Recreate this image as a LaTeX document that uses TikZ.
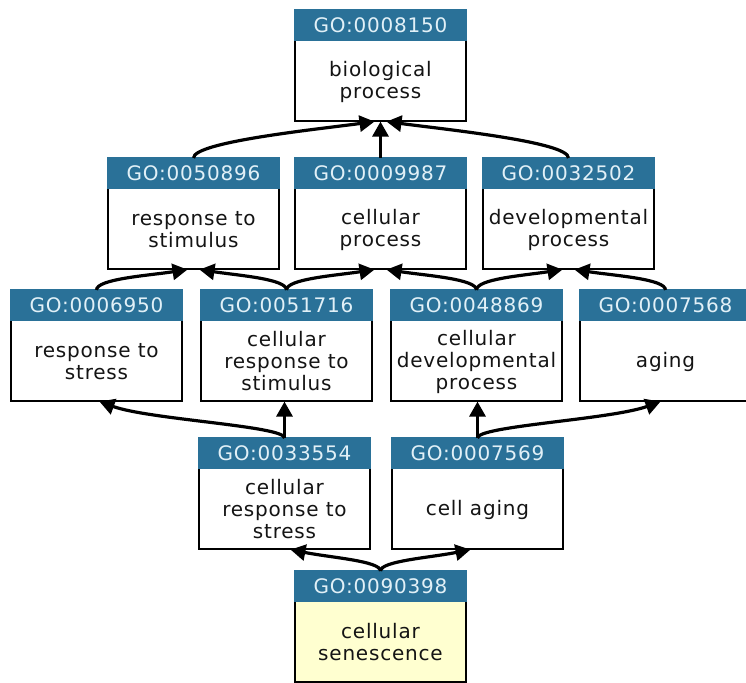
\documentclass[tikz,border=0pt]{standalone}
\usepackage{fontspec}
\newfontfamily\gofont{DejaVu Sans}[LetterSpace=4]
\usetikzlibrary{arrows.meta,calc}

\definecolor{gohead}{RGB}{42,113,152}
\definecolor{goheadtext}{RGB}{225,240,247}
\definecolor{gofocus}{RGB}{255,255,208}
\definecolor{golabel}{RGB}{20,20,20}

\tikzset{
  gobox/.style={draw=black, line width=1.6pt, minimum width=171pt,
    minimum height=110pt, inner sep=0pt, anchor=north},
  gohdr/.style={fill=gohead, minimum width=172.6pt, minimum height=31.8pt,
    inner sep=0pt, anchor=north, text=goheadtext,
    font=\gofont\fontsize{20}{22}\selectfont},
  gotxt/.style={align=center, text=golabel, inner sep=0pt,
    font=\gofont\fontsize{20}{22}\selectfont},
  isa/.style={line width=3.2pt, -{Triangle[length=15pt,width=16pt]}},
}

% one GO term: name, centre x, top y, identifier, label, fill
\newcommand\goterm[6]{%
  \node[gobox, fill=#6] (#1) at (#2,#3) {};
  \node[gohdr] (#1-id) at ([yshift=0.8pt]#1.north) {#4};
  \node[gotxt] (#1-name) at ($(#1-id.south)!0.5!(#1.south)$) {#5};
}

\begin{document}
\begin{tikzpicture}[x=1pt,y=1pt]
\useasboundingbox (0,0) rectangle (746,682);
\clip (0,0) rectangle (746,682);

% terms, row by row from the root down
\goterm{n8150}{380.5}{672}{GO:0008150}{biological\\process}{white}

\goterm{n50896}{193.5}{524}{GO:0050896}{response to\\stimulus}{white}
\goterm{n9987}{380.5}{524}{GO:0009987}{cellular\\process}{white}
\goterm{n32502}{568.5}{524}{GO:0032502}{developmental\\process}{white}

\goterm{n6950}{96.5}{392}{GO:0006950}{response to\\stress}{white}
\goterm{n51716}{286.5}{392}{GO:0051716}{cellular\\response to\\stimulus}{white}
\goterm{n48869}{476.5}{392}{GO:0048869}{cellular\\developmental\\process}{white}
\goterm{n7568}{665.5}{392}{GO:0007568}{aging}{white}

\goterm{n33554}{284.5}{244}{GO:0033554}{cellular\\response to\\stress}{white}
\goterm{n7569}{477.5}{244}{GO:0007569}{cell aging}{white}

\goterm{n90398}{380.5}{111}{GO:0090398}{cellular\\senescence}{gofocus}

% is_a relations, child to parent
\draw[isa] (n50896.north) .. controls +(0,16) and +(-60,-8) .. ([xshift=-6pt]n8150.south);
\draw[isa] (n9987.north) -- (n8150.south);
\draw[isa] (n32502.north) .. controls +(0,16) and +(60,-8) .. ([xshift=6pt]n8150.south);

\draw[isa] (n6950.north) .. controls +(0,11) and +(-40,-6) .. ([xshift=-6pt]n50896.south);
\draw[isa] (n51716.north) .. controls +(0,11) and +(40,-6) .. ([xshift=6pt]n50896.south);
\draw[isa] (n51716.north) .. controls +(0,11) and +(-40,-6) .. ([xshift=-6pt]n9987.south);
\draw[isa] (n48869.north) .. controls +(0,11) and +(40,-6) .. ([xshift=6pt]n9987.south);
\draw[isa] (n48869.north) .. controls +(0,11) and +(-40,-6) .. ([xshift=-6pt]n32502.south);
\draw[isa] (n7568.north) .. controls +(0,11) and +(40,-6) .. ([xshift=6pt]n32502.south);

\draw[isa] (n33554.north) .. controls +(0,12) and +(50,-18) .. ([xshift=3pt]n6950.south);
\draw[isa] (n33554.north) -- (n33554.north |- n51716.south);
\draw[isa] (n7569.north) -- (n7569.north |- n48869.south);
\draw[isa] (n7569.north) .. controls +(0,12) and +(-50,-18) .. ([xshift=-5pt]n7568.south);

\draw[isa] (n90398.north) .. controls +(0,10) and +(40,-8) .. ([xshift=6pt]n33554.south);
\draw[isa] (n90398.north) .. controls +(0,10) and +(-40,-8) .. ([xshift=-7pt]n7569.south);
\end{tikzpicture}
\end{document}
